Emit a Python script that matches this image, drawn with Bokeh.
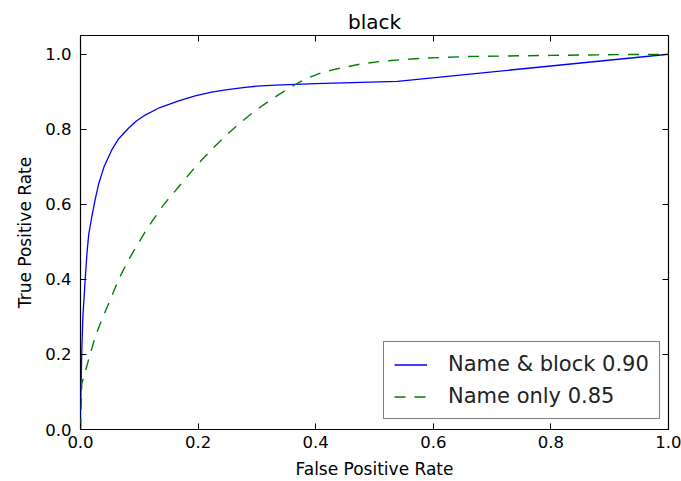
from bokeh.plotting import figure
from bokeh.models import (LinearAxis, FixedTicker, NumeralTickFormatter,
                          CustomJSTickFormatter, Legend, LegendItem, Range1d)
from bokeh.embed import file_html
from bokeh.resources import INLINE

title_text = "black"
x_label = "False Positive Rate"
y_label = "True Positive Rate"

x_ticks = [0.0, 0.2, 0.4, 0.6, 0.8, 1.0]
y_ticks = [0.0, 0.2, 0.4, 0.6, 0.8, 1.0]

series_names = ["Name & block 0.90", "Name only 0.85"]

block_fpr = [0.0, 0.0, 0.001, 0.0022, 0.004, 0.008, 0.011, 0.014, 0.019, 0.025,
             0.031, 0.04, 0.0532, 0.065, 0.0816, 0.095, 0.110, 0.135, 0.167,
             0.195, 0.223, 0.25, 0.280, 0.30, 0.331, 0.40, 0.539, 1.0]
block_tpr = [0.0, 0.05, 0.12, 0.21, 0.30, 0.40, 0.47, 0.52, 0.565, 0.613,
             0.655, 0.70, 0.745, 0.775, 0.803, 0.822, 0.838, 0.858, 0.876,
             0.889, 0.899, 0.906, 0.912, 0.915, 0.918, 0.922, 0.928, 1.0]

name_fpr = [0.0, 0.0022, 0.0136, 0.025, 0.036, 0.0505, 0.0646, 0.0816, 0.0986, 0.116,
            0.141, 0.167, 0.19, 0.206, 0.23, 0.252, 0.27, 0.291, 0.31, 0.334,
            0.355, 0.374, 0.39, 0.408, 0.425, 0.442, 0.476, 0.516, 0.55, 0.59,
            0.658, 0.80, 0.91, 1.0]
name_tpr = [0.0, 0.122, 0.185, 0.247, 0.292, 0.345, 0.399, 0.452, 0.497, 0.542,
            0.598, 0.647, 0.69, 0.718, 0.757, 0.79, 0.815, 0.842, 0.864, 0.889,
            0.91, 0.927, 0.939, 0.95, 0.957, 0.963, 0.974, 0.982, 0.986, 0.99,
            0.994, 0.997, 0.999, 1.0]

FONT = "DejaVu Sans"

p = figure(width=681, height=481, output_backend="svg", toolbar_location=None,
           x_range=Range1d(0, 1.0), y_range=Range1d(0, 1.05),
           min_border_left=80, min_border_right=13, min_border_top=35,
           min_border_bottom=52, x_axis_location=None, y_axis_location=None)

p.grid.visible = False
p.outline_line_color = "black"
p.outline_line_width = 1.2
p.background_fill_color = "white"
p.border_fill_color = "white"

p.title.text = title_text
p.title.text_font = FONT
p.title.text_font_size = "20px"
p.title.text_font_style = "normal"
p.title.text_color = "black"
p.title.align = "center"
p.title.standoff = 3
p.title.offset = 0

blank = CustomJSTickFormatter(code="return ''")


def make_axis(ticks, show_labels, label_text=None):
    ax = LinearAxis(ticker=FixedTicker(ticks=ticks),
                    formatter=NumeralTickFormatter(format="0.0") if show_labels else blank)
    ax.axis_line_color = None
    ax.major_tick_in = 6
    ax.major_tick_out = 0
    ax.major_tick_line_color = "black"
    ax.minor_tick_line_color = None
    if show_labels:
        ax.major_label_text_font = FONT
        ax.major_label_text_font_size = "16.5px"
        ax.major_label_text_color = "black"
    else:
        ax.major_label_standoff = 0
    if label_text:
        ax.axis_label = label_text
        ax.axis_label_text_font = FONT
        ax.axis_label_text_font_size = "17px"
        ax.axis_label_text_font_style = "normal"
        ax.axis_label_text_color = "black"
    return ax


bottom = make_axis(x_ticks, True, x_label)
bottom.major_label_standoff = 6
bottom.axis_label_standoff = 8
left = make_axis(y_ticks, True, y_label)
left.major_label_standoff = 9
left.axis_label_standoff = 7
top = make_axis(x_ticks, False)
right = make_axis(y_ticks, False)

p.add_layout(bottom, "below")
p.add_layout(left, "left")
p.add_layout(top, "above")
p.add_layout(right, "right")

r1 = p.line(block_fpr, block_tpr, line_color="#0000ff", line_width=1.3)
r2 = p.line(name_fpr, name_tpr, line_color="#008000", line_width=1.4,
            line_dash="11 9")

legend = Legend(items=[LegendItem(label=series_names[0], renderers=[r1]),
                       LegendItem(label=series_names[1], renderers=[r2])],
                location=(303, 10))
legend.label_text_font = FONT
legend.label_text_font_size = "21px"
legend.label_text_color = "#222222"
legend.glyph_width = 33
legend.glyph_height = 23
legend.label_height = 23
legend.label_standoff = 21
legend.spacing = 8
legend.padding = 10
legend.margin = 0
legend.border_line_color = "black"
legend.border_line_width = 1.2
legend.background_fill_color = "white"
legend.background_fill_alpha = 1.0
p.add_layout(legend, "center")

open("out.html", "w").write(file_html(p, INLINE))
